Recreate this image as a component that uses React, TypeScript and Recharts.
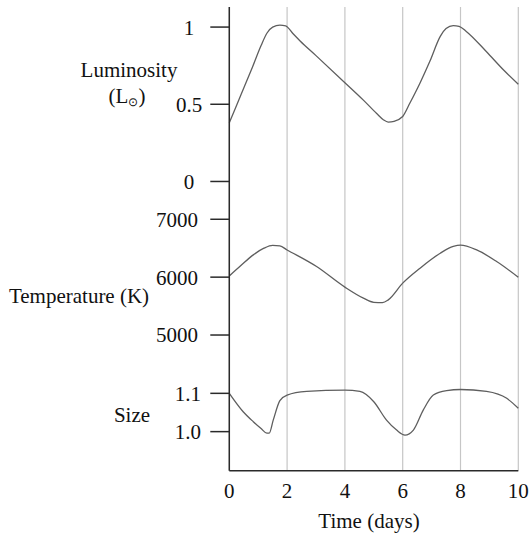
import React from 'react';
import { LineChart, Line, XAxis, YAxis, CartesianGrid } from 'recharts';

// luminosity (solar units) against time in days
const lumDays = [0, 0.4, 0.8, 1.1, 1.3, 1.5, 1.75, 1.95, 2.2, 2.45, 3.0, 4.0, 4.64, 5.1, 5.33, 5.5, 5.7, 6.0, 6.25, 6.6, 6.94, 7.3, 7.5, 7.75, 7.95, 8.2, 8.9, 9.5, 10];
const lumValues = [0.38, 0.56, 0.74, 0.88, 0.96, 1.0, 1.012, 1.008, 0.958, 0.91, 0.815, 0.64, 0.527, 0.44, 0.4, 0.385, 0.39, 0.421, 0.508, 0.638, 0.778, 0.94, 0.99, 1.01, 1.005, 0.972, 0.84, 0.72, 0.63];

// temperature (K)
const tempDays = [0, 0.4, 0.83, 1.2, 1.5, 1.75, 2.0, 3.02, 4.0, 4.64, 5.0, 5.3, 5.5, 6.0, 6.6, 7.3, 7.75, 8.0, 8.56, 9.25, 10];
const tempValues = [6020, 6200, 6385, 6500, 6548, 6540, 6470, 6183, 5827, 5637, 5565, 5560, 5607, 5896, 6155, 6414, 6530, 6553, 6470, 6270, 6000];

// relative size
const sizeDays = [0, 0.48, 0.83, 1.1, 1.3, 1.38, 1.52, 1.75, 2.0, 2.68, 4.0, 4.52, 5.0, 5.44, 5.79, 6.08, 6.37, 6.71, 7.06, 7.52, 8.0, 8.9, 9.6, 10];
const sizeValues = [1.1, 1.052, 1.026, 1.008, 0.996, 0.996, 1.03, 1.081, 1.0955, 1.105, 1.1086, 1.105, 1.078, 1.03, 1.004, 0.991, 1.004, 1.056, 1.0955, 1.107, 1.11, 1.105, 1.087, 1.061];

const dayTicks = [0, 2, 4, 6, 8, 10];
const lumTicks = [0, 0.5, 1];
const tempTicks = [5000, 6000, 7000];
const sizeTicks = [1.0, 1.1];

const FONT = '"Liberation Serif", "Times New Roman", serif';
const FS = 21;
const INK = '#111';
const CURVE = '#5e5e5e';
const AXIS = '#2a2a2a';
const GRID = '#c6c6c6';

const toRows = (days: number[], vals: number[]) => days.map((t, i) => ({ t, v: vals[i] }));

const lumData = toRows(lumDays, lumValues);
const tempData = toRows(tempDays, tempValues);
const sizeData = toRows(sizeDays, sizeValues);

const W = 529;
const AXIS_W = 229.3;
const RIGHT = 10.7;

const sideTick = (tx: number, anchor: 'middle' | 'end', fmt: (v: number) => string) => (p: any) => (
  <text x={tx} y={p.y} dy="0.355em" textAnchor={anchor} fill={INK} fontSize={FS} fontFamily={FONT}>
    {fmt(p.payload.value)}
  </text>
);

const curve = (
  <Line type="monotone" dataKey="v" stroke={CURVE} strokeWidth={1.3} dot={false} isAnimationActive={false} />
);

const hiddenX = <XAxis dataKey="t" type="number" domain={[0, 10]} ticks={dayTicks} hide />;

const grid = <CartesianGrid horizontal={false} stroke={GRID} strokeWidth={1.2} />;

export default function App() {
  return (
    <div style={{ position: 'absolute', left: 0, top: 0, width: W, height: 537, background: '#fff', fontFamily: FONT }}>
      <div style={{ position: 'absolute', left: 0, top: 0 }}>
        <LineChart width={W} height={200} data={lumData} margin={{ top: 7, right: RIGHT, left: 0, bottom: 0 }}>
          {grid}
          {hiddenX}
          <YAxis
            type="number"
            domain={[-0.12, 1.13]}
            ticks={lumTicks}
            width={AXIS_W}
            tickSize={19}
            stroke={AXIS}
            strokeWidth={1.5}
            tick={sideTick(189, 'middle', (v) => String(v))}
            label={() => (
              <g fill={INK} fontSize={FS} fontFamily={FONT}>
                <text x={129} y={77} textAnchor="middle">Luminosity</text>
                <text x={127} y={103} textAnchor="middle">
                  (L<tspan fontSize={12} dy={3}>⊙</tspan><tspan dy={-3}>)</tspan>
                </text>
              </g>
            )}
          />
          {curve}
        </LineChart>
      </div>
      <div style={{ position: 'absolute', left: 0, top: 200 }}>
        <LineChart width={W} height={165} data={tempData} margin={{ top: 0, right: RIGHT, left: 0, bottom: 0 }}>
          {grid}
          {hiddenX}
          <YAxis
            type="number"
            domain={[4482, 7333]}
            ticks={tempTicks}
            width={AXIS_W}
            tickSize={19}
            stroke={AXIS}
            strokeWidth={1.5}
            tick={sideTick(198, 'end', (v) => String(v))}
            label={() => (
              <text x={79} y={103} textAnchor="middle" fill={INK} fontSize={FS} fontFamily={FONT}>
                Temperature (K)
              </text>
            )}
          />
          {curve}
        </LineChart>
      </div>
      <div style={{ position: 'absolute', left: 0, top: 365 }}>
        <LineChart width={W} height={172} data={sizeData} margin={{ top: 0, right: RIGHT, left: 0, bottom: 36.3 }}>
          {grid}
          <XAxis
            dataKey="t"
            type="number"
            domain={[0, 10]}
            ticks={dayTicks}
            height={30}
            tickLine={false}
            tickSize={0}
            tickMargin={12}
            stroke={AXIS}
            strokeWidth={1.5}
            tick={{ fill: INK, fontSize: FS, fontFamily: FONT }}
            label={() => (
              <text x={369} y={163} textAnchor="middle" fill={INK} fontSize={FS} fontFamily={FONT}>
                Time (days)
              </text>
            )}
          />
          <YAxis
            type="number"
            domain={[0.898, 1.174]}
            ticks={sizeTicks}
            width={AXIS_W}
            tickSize={19}
            stroke={AXIS}
            strokeWidth={1.5}
            tick={sideTick(201, 'end', (v) => v.toFixed(1))}
            label={() => (
              <text x={132} y={57} textAnchor="middle" fill={INK} fontSize={FS} fontFamily={FONT}>
                Size
              </text>
            )}
          />
          {curve}
        </LineChart>
      </div>
    </div>
  );
}
